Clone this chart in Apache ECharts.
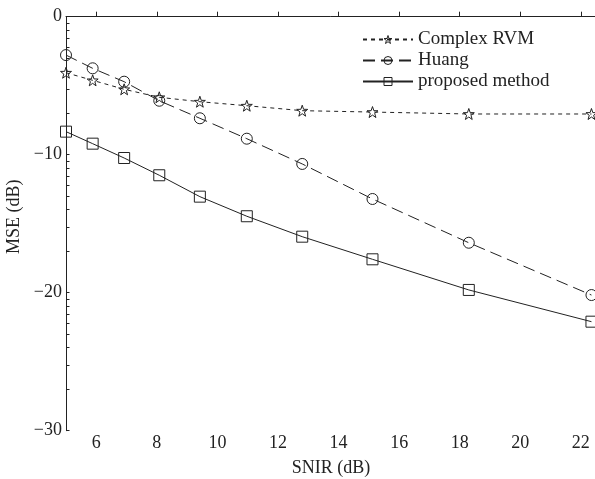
<!DOCTYPE html>
<html>
<head>
<meta charset="utf-8">
<script src="https://cdn.jsdelivr.net/npm/echarts@6/dist/echarts.min.js"></script>
<style>
  html, body { margin: 0; padding: 0; background: #fff; }
  #chart { width: 595px; height: 479px; }
</style>
</head>
<body>
<div id="chart"></div>
<script>
// SNIR values (dB)
var snir = [5.0, 5.88, 6.92, 8.08, 9.42, 10.97, 12.8, 15.12, 18.3, 22.35];
// MSE (dB) of each method
var complexRvm = [-4.06, -4.61, -5.26, -5.84, -6.16, -6.45, -6.81, -6.91, -7.05, -7.05];
var huang = [-2.78, -3.74, -4.71, -6.09, -7.36, -8.84, -10.67, -13.21, -16.38, -20.17];
var proposed = [-8.33, -9.20, -10.24, -11.49, -13.04, -14.46, -15.94, -17.58, -19.80, -22.10];

// tick labels
var xTicks = [6, 8, 10, 12, 14, 16, 18, 20, 22];
var yTicks = [-30, -20, -10, 0];
var yMinorTicks = [
  -6.99, -5.23, -3.98, -3.01, -2.22, -1.55, -0.97, -0.46,
  -16.99, -15.23, -13.98, -13.01, -12.22, -11.55, -10.97, -10.46,
  -26.99, -25.23, -23.98, -23.01, -22.22, -21.55, -20.97, -20.46
];

var FONT = '"Liberation Serif", "DejaVu Serif", serif';
var INK = '#222';
var HOLLOW = 'rgba(255,255,255,0)';
var STAR = 'path://M0,-10L2.35,-3.24L9.51,-3.09L3.8,1.24L5.88,8.09L0,4L-5.88,8.09L-3.8,1.24L-9.51,-3.09L-2.35,-3.24Z';

function pairs(ys) {
  var out = [];
  for (var i = 0; i < snir.length; i++) out.push([snir[i], ys[i]]);
  return out;
}

//公用线条样式
function mkSeries(name, ys, symbol, size, dash) {
  return {
    name: name,
    type: 'line',
    data: pairs(ys),
    symbol: symbol,
    symbolSize: size,
    showSymbol: true,
    animation: false,
    lineStyle: { color: INK, width: 1, type: dash },
    itemStyle: { color: HOLLOW, borderColor: INK, borderWidth: 1 }
  };
}

function legendItem(name) {
  return { name: name, itemStyle: { color: HOLLOW, borderColor: INK, borderWidth: 1 } };
}

var myChart = echarts.init(document.getElementById('chart'));
myChart.setOption({
  backgroundColor: '#fff',
  animation: false,
  grid: { left: 66, right: -1, top: 16.7, bottom: 48.3, containLabel: false, outerBoundsMode: 'none' },
  legend: {
    orient: 'vertical',
    left: 362,
    top: 30,
    padding: 0,
    itemWidth: 50,
    itemHeight: 10,
    itemGap: 2,
    textStyle: { fontFamily: FONT, fontSize: 19, color: INK, lineHeight: 19 },
    data: [legendItem('Complex RVM'), legendItem('Huang'), legendItem('proposed method')]
  },
  xAxis: {
    type: 'value',
    min: 5,
    max: 22.5,
    name: 'SNIR (dB)',
    nameLocation: 'middle',
    nameGap: 29,
    nameTextStyle: { fontFamily: FONT, fontSize: 18, color: INK },
    axisLine: { lineStyle: { color: INK, width: 1 } },
    axisTick: { inside: true, length: 5, customValues: xTicks, lineStyle: { color: INK } },
    axisLabel: { customValues: xTicks, fontFamily: FONT, fontSize: 18, color: INK, margin: 4 },
    splitLine: { show: false }
  },
  yAxis: {
    type: 'value',
    min: -30,
    max: 0,
    interval: 10,
    name: 'MSE (dB)',
    nameLocation: 'middle',
    nameGap: 32,
    nameTextStyle: { fontFamily: FONT, fontSize: 18, color: INK, padding: [0, 0, 0, 14] },
    axisLine: { show: true, lineStyle: { color: INK, width: 1 } },
    // 主刻度与对数样式的次刻度
    axisTick: { show: true, inside: true, length: 3.5, customValues: yTicks.concat(yMinorTicks), lineStyle: { color: INK } },
    axisLabel: {
      customValues: yTicks,
      fontFamily: FONT, fontSize: 18, color: INK, margin: 4,
      formatter: function (v) { return String(v).replace('-', '\u2212'); }
    },
    splitLine: { show: false }
  },
  series: [
    mkSeries('Complex RVM', complexRvm, STAR, 11, [4, 4]),
    mkSeries('Huang', huang, 'circle', 11, [12, 6]),
    mkSeries('proposed method', proposed, 'rect', 11, 'solid')
  ]
});
</script>
</body>
</html>
